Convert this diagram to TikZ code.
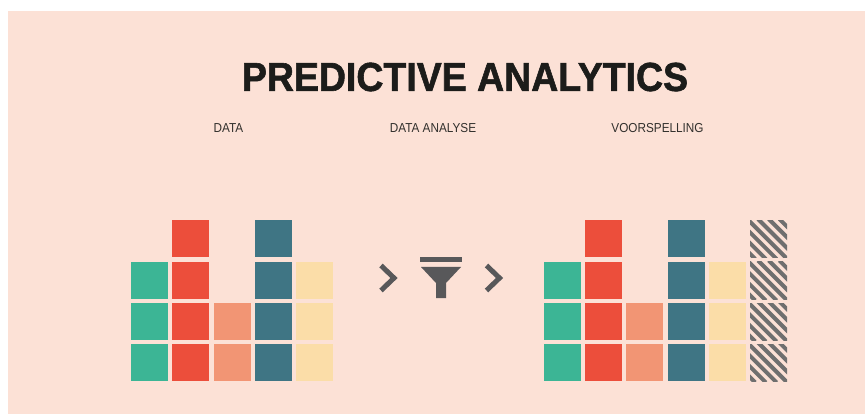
\documentclass[tikz,border=0pt]{standalone}
\usepackage{fontspec}
\setmainfont{Liberation Sans}
\newfontfamily\titlefont[FakeStretch=0.925,BoldFeatures={FakeBold=1.4}]{Liberation Sans}
\newfontfamily\headingfont[FakeStretch=0.905]{Liberation Sans}
\definecolor{bgpink}{HTML}{FCE1D6}
\definecolor{cgreen}{HTML}{3CB595}
\definecolor{cred}{HTML}{EC4E3B}
\definecolor{csalmon}{HTML}{F29574}
\definecolor{cteal}{HTML}{3F7584}
\definecolor{cyellow}{HTML}{FBDDA8}
\definecolor{cgray}{HTML}{58585A}
\definecolor{chatch}{HTML}{6F6F6F}
\definecolor{cink}{HTML}{1C1C1A}
\tikzset{
	cell/.style={minimum width=37pt, minimum height=37pt, inner sep=0pt, outer sep=0pt},
	heading/.style={text=cink!90!bgpink, font=\headingfont\fontsize{13}{15}\selectfont, inner sep=0pt},
	chevron/.style={draw=cgray, line width=5pt, miter limit=10},
	hatchcell/.style={cell, path picture={
		\foreach \d in {-33.3,-22.6,-11.9,-1.2,9.5,20.2,30.9}
			\draw [chatch, line width=4pt]
				([xshift=\d pt-20pt, yshift=20pt]path picture bounding box.center) --
				([xshift=\d pt+20pt, yshift=-20pt]path picture bounding box.center);
	}},
}
\begin{document}
\begin{tikzpicture}[x=1pt, y=-1pt]
	\useasboundingbox (0,0) rectangle (865,414);
	\fill [bgpink] (8,11) rectangle (865,414);
	\node [text=cink, inner sep=0pt, font=\titlefont\bfseries\fontsize{40.5}{42}\selectfont] (title) at (465,77) {PREDICTIVE ANALYTICS};
	\node [heading] (data) at (228.5,128.5) {DATA};
	\node [heading] (analyse) at (433,128.5) {DATA ANALYSE};
	\node [heading] (voorspelling) at (657.5,128.5) {VOORSPELLING};
	% left bars
	\foreach \x/\top/\colr in {149.5/1/cgreen, 190.5/0/cred, 232.5/2/csalmon, 273.5/0/cteal, 314.5/1/cyellow} {
		\foreach \r/\y in {0/238.8, 1/280.5, 2/321.5, 3/362.5} {
			\ifnum\r<\top\else
				\node [cell, fill=\colr] (l-\colr-\r) at (\x,\y) {};
			\fi
		}
	}
	% right bars
	\foreach \x/\top/\colr in {562.5/1/cgreen, 603.5/0/cred, 644.5/2/csalmon, 686.5/0/cteal, 727.5/1/cyellow} {
		\foreach \r/\y in {0/238.5, 1/280.5, 2/321.5, 3/362.5} {
			\ifnum\r<\top\else
				\node [cell, fill=\colr] (r-\colr-\r) at (\x,\y) {};
			\fi
		}
	}
	\foreach \r/\y in {0/239, 1/280.5, 2/321.5, 3/362.5}
		\node [hatchcell] (r-hatch-\r) at (768.5,\y) {};
	% funnel
	\fill [cgray] (420,257) rectangle (462,262);
	\fill [cgray] (421,267) -- (461,267) -- (446,283) -- (446,298) -- (436,298) -- (436,283) -- cycle;
	\draw [chevron] (381,265.5) -- (394,278) -- (381,290.5);
	\draw [chevron] (486.5,265.5) -- (499.5,278) -- (486.5,290.5);
\end{tikzpicture}
\end{document}
